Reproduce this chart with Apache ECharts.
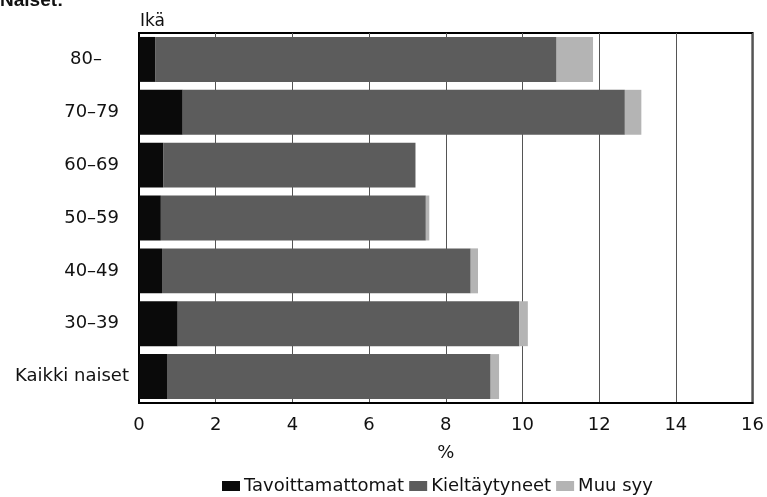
<!DOCTYPE html>
<html>
<head>
<meta charset="utf-8">
<script src="https://cdn.jsdelivr.net/npm/echarts@6/dist/echarts.min.js"></script>
<style>
html,body{margin:0;padding:0;background:#fff;}
#chart{width:767px;height:497px;}
</style>
</head>
<body>
<div id="chart"></div>
<script>
const categories = ['80–', '70–79', '60–69', '50–59', '40–49', '30–39', 'Kaikki naiset'];
const tavoittamattomat = [0.42, 1.14, 0.63, 0.57, 0.60, 1.01, 0.73];
const kieltaytyneet = [10.47, 11.53, 6.58, 6.91, 8.05, 8.91, 8.44];
const muuSyy = [0.95, 0.43, 0, 0.09, 0.19, 0.22, 0.22];
const xTicks = [0, 2, 4, 6, 8, 10, 12, 14, 16];
const seriesNames = ['Tavoittamattomat', 'Kieltäytyneet', 'Muu syy'];

const font = 'DejaVu Sans';
const labelPad = {'80–': 27, 'Kaikki naiset': 0};
const yData = categories.map(c => ({
  value: c,
  textStyle: { padding: [6, labelPad[c] !== undefined ? labelPad[c] : 10, 0, 0] }
}));

const chart = echarts.init(document.getElementById('chart'), null, {renderer: 'canvas'});
const colors = ['#0a0a0a', '#5c5c5c', '#b4b4b4'];
const seriesData = [tavoittamattomat, kieltaytyneet, muuSyy];

chart.setOption({
  animation: false,
  backgroundColor: '#fff',
  textStyle: { fontFamily: font, color: '#111' },
  graphic: [
    { type: 'text', left: 0, top: -9, style: { text: 'Naiset:', font: 'bold 19px "Liberation Sans"', fill: '#111' } },
    { type: 'text', left: 140, top: 13, style: { text: 'Ikä', font: '17px "DejaVu Sans"', fill: '#111' } }
  ],
  grid: { left: 139, right: 13, top: 33, bottom: 94, show: true, borderColor: '#000', borderWidth: 2, containLabel: false },
  legend: {
    data: seriesNames,
    left: 217, top: 472,
    itemWidth: 18, itemHeight: 10, itemGap: 5,
    icon: 'rect',
    textStyle: { fontFamily: font, fontSize: 18, color: '#111', padding: [0, 0, 0, -1] }
  },
  xAxis: {
    type: 'value', min: xTicks[0], max: xTicks[xTicks.length - 1], interval: 2,
    name: '%', nameLocation: 'middle', nameGap: 41,
    nameTextStyle: { fontFamily: font, fontSize: 18, color: '#111' },
    axisLine: { show: true, lineStyle: { color: '#000', width: 2 } },
    axisTick: { show: false },
    axisLabel: { fontFamily: font, fontSize: 18, color: '#111', margin: 13 },
    splitLine: { show: true, lineStyle: { color: '#555', width: 1 } }
  },
  yAxis: {
    type: 'category', data: yData, inverse: true,
    axisLine: { show: true, lineStyle: { color: '#000', width: 2 } },
    axisTick: { show: false },
    axisLabel: { fontFamily: font, fontSize: 18, color: '#111', margin: 10 },
    splitLine: { show: false }
  },
  series: seriesNames.map((n, i) => ({
    name: n, type: 'bar', stack: 'total', barWidth: '85%',
    itemStyle: { color: colors[i] },
    data: seriesData[i]
  }))
});
</script>
</body>
</html>
